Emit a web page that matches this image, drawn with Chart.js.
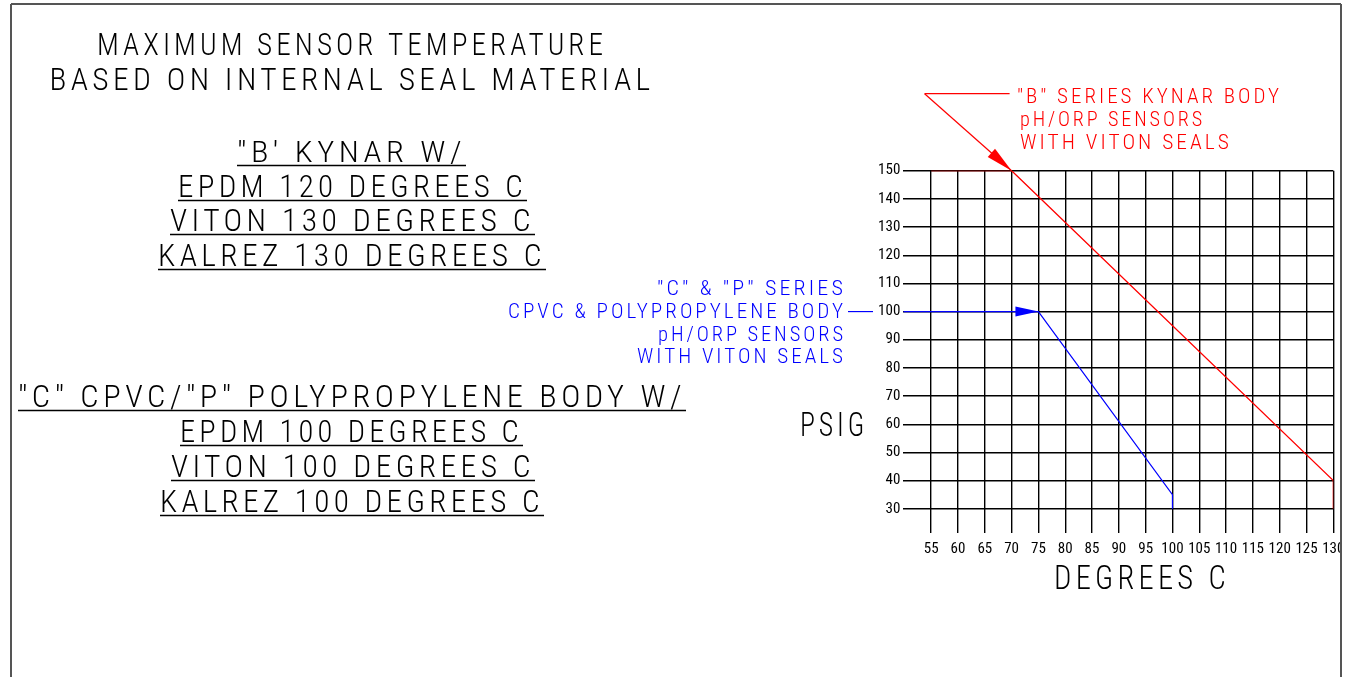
<!DOCTYPE html>
<html>
<head>
<meta charset="utf-8">
<script src="https://cdn.jsdelivr.net/npm/chart.js@4.4.0/dist/chart.umd.min.js"></script>
<style>
  html, body { margin: 0; padding: 0; background: #fff; }
  #wrap { position: absolute; left: 0; top: 0; width: 1348px; height: 677px; }
</style>
</head>
<body>
<div id="wrap"><canvas id="chart" width="1348" height="677"></canvas></div>
<script>
// axis ticks
const xTicks = [55, 60, 65, 70, 75, 80, 85, 90, 95, 100, 105, 110, 115, 120, 125, 130];
const yTicks = [30, 40, 50, 60, 70, 80, 90, 100, 110, 120, 130, 140, 150];

// "B" series (Kynar body) - red
const kynarX = [55, 70, 130, 130];
const kynarY = [150, 150, 40, 30];

// "C" & "P" series (CPVC / polypropylene body) - blue
const cpvcX = [49.8, 75, 100, 100];
const cpvcY = [100, 100, 35, 30];

// texts
const titleLines = ["MAXIMUM SENSOR TEMPERATURE", "BASED ON INTERNAL SEAL MATERIAL"];
const kynarLines = ["\"B' KYNAR W/", "EPDM 120 DEGREES C", "VITON 130 DEGREES C", "KALREZ 130 DEGREES C"];
const cpvcLines = ["\"C\" CPVC/\"P\" POLYPROPYLENE BODY W/", "EPDM 100 DEGREES C", "VITON 100 DEGREES C", "KALREZ 100 DEGREES C"];
const kynarNote = ["\"B\" SERIES KYNAR BODY", "pH/ORP SENSORS", "WITH VITON SEALS"];
const cpvcNote = ["\"C\" & \"P\" SERIES", "CPVC & POLYPROPYLENE BODY", "pH/ORP SENSORS", "WITH VITON SEALS"];

const FONT = '"Roboto Condensed", "Liberation Sans Narrow", "DejaVu Sans Condensed", Roboto, sans-serif';

const toPoints = (xs, ys) => xs.map((x, i) => ({ x: x, y: ys[i] }));

// draws one line of text squeezed/stretched to a given width
// box: [x, capTop, baseline, width]
function drawText(ctx, s, box, align, color) {
    const [x, top, base, width] = box;
    const size = (base - top) / 0.71;
    ctx.save();
    ctx.font = "300 " + size + "px " + FONT;
    ctx.letterSpacing = (size * 0.14).toFixed(1) + "px";
    const w = ctx.measureText(s).width;
    ctx.translate(x, base);
    ctx.scale(width / w, 1);
    ctx.textAlign = align;
    ctx.textBaseline = "alphabetic";
    ctx.fillStyle = color;
    ctx.fillText(s, 0, 0);
    ctx.restore();
}

function line(ctx, x1, y1, x2, y2, color, lw) {
    ctx.save();
    ctx.strokeStyle = color;
    ctx.lineWidth = lw;
    ctx.beginPath();
    ctx.moveTo(x1, y1);
    ctx.lineTo(x2, y2);
    ctx.stroke();
    ctx.restore();
}

function arrowHead(ctx, fx, fy, tx, ty, len, half, color) {
    const a = Math.atan2(ty - fy, tx - fx);
    ctx.save();
    ctx.translate(tx, ty);
    ctx.rotate(a);
    ctx.fillStyle = color;
    ctx.beginPath();
    ctx.moveTo(0, 0);
    ctx.lineTo(-len, -half);
    ctx.lineTo(-len, half);
    ctx.closePath();
    ctx.fill();
    ctx.restore();
}

const drawing = {
    id: "drawing",
    beforeDraw(chart) {
        const ctx = chart.ctx;
        ctx.save();
        ctx.fillStyle = "#fff";
        ctx.fillRect(0, 0, chart.width, chart.height);
        ctx.restore();
    },
    afterDatasetsDraw(chart) {
        const ctx = chart.ctx;
        const xs = chart.scales.x, ys = chart.scales.y;

        // red leader + arrow
        const rx = xs.getPixelForValue(70), ry = ys.getPixelForValue(150);
        const sx = rx - 87, sy = ry - 77;
        line(ctx, sx, sy, sx + 85, sy, "#ff0000", 1.2);
        line(ctx, sx, sy, rx, ry, "#ff0000", 1.2);
        arrowHead(ctx, sx, sy, rx, ry, 27, 5.5, "#ff0000");

        // blue arrow + leader
        const bx = xs.getPixelForValue(75), by = ys.getPixelForValue(100);
        arrowHead(ctx, bx - 40, by, bx, by, 23, 5, "#0000ff");
        line(ctx, 848, by, 873, by, "#0000ff", 1.2);
    },
    afterDraw(chart) {
        const ctx = chart.ctx;

        // title
        const titleBoxes = [[352, 33, 55, 510], [352, 68, 90, 605]];
        titleLines.forEach((s, i) => drawText(ctx, s, titleBoxes[i], "center", "#000"));

        // underlined blocks
        const kynarBoxes = [[351.5, 141, 162, 229], [352.5, 175, 197, 349], [352.5, 209, 231, 365], [352, 244, 266, 388]];
        const cpvcBoxes = [[352, 385, 407, 668], [351.5, 420, 442, 343], [353, 455, 477, 364], [352, 490, 512, 384]];
        [[kynarLines, kynarBoxes], [cpvcLines, cpvcBoxes]].forEach(([lines, boxes]) => {
            lines.forEach((s, i) => {
                const b = boxes[i];
                drawText(ctx, s, b, "center", "#000");
                line(ctx, b[0] - b[3] / 2, b[2] + 3.5, b[0] + b[3] / 2, b[2] + 3.5, "#000", 1.5);
            });
        });

        // red note
        const redBoxes = [[1017, 88, 103, 265], [1020, 111.5, 126, 185], [1020, 135, 149, 212]];
        kynarNote.forEach((s, i) => drawText(ctx, s, redBoxes[i], "left", "#ff0000"));

        // blue note
        const blueBoxes = [[846, 280, 295, 189], [846, 303, 318, 338], [846, 325.5, 340.5, 188], [846, 348, 363, 209]];
        cpvcNote.forEach((s, i) => drawText(ctx, s, blueBoxes[i], "right", "#0000ff"));

        // axis titles
        drawText(ctx, "PSIG", [800, 413, 436, 68], "left", "#000");
        drawText(ctx, "DEGREES C", [1054, 566, 589, 176], "left", "#000");

        // sheet frame
        ctx.save();
        ctx.fillStyle = "#fff";
        ctx.fillRect(1342, 0, 6, chart.height);
        ctx.restore();
        line(ctx, 11, 4, 1341, 4, "#555", 2);
        line(ctx, 11, 4, 11, 677, "#555", 2);
        line(ctx, 1341, 4, 1341, 677, "#555", 2);
    }
};

const tickFont = { family: FONT, size: 15 };

new Chart(document.getElementById("chart"), {
    type: "line",
    data: {
        datasets: [
            {
                data: toPoints(kynarX, kynarY),
                borderColor: "#ff0000",
                borderWidth: 1.2,
                pointRadius: 0,
                tension: 0,
                fill: false
            },
            {
                data: toPoints(cpvcX, cpvcY),
                borderColor: "#0000ff",
                borderWidth: 1.2,
                pointRadius: 0,
                tension: 0,
                fill: false
            }
        ]
    },
    options: {
        responsive: false,
        devicePixelRatio: 1,
        animation: false,
        layout: { padding: { left: 863.3, right: 14.7, top: 170.7, bottom: 118.7 } },
        plugins: {
            legend: { display: false },
            tooltip: { enabled: false }
        },
        scales: {
            x: {
                type: "linear",
                min: 49.8,
                max: 130,
                afterBuildTicks: (s) => { s.ticks = xTicks.map(v => ({ value: v })); },
                afterFit: (s) => { s.height = 25; s.paddingLeft = 0; s.paddingRight = 0; },
                grid: { color: "#000", lineWidth: 1.4, drawTicks: false },
                border: { display: false },
                ticks: { color: "#000", font: tickFont, padding: 7, autoSkip: false, maxRotation: 0 }
            },
            y: {
                type: "linear",
                min: 21.3,
                max: 150,
                afterBuildTicks: (s) => { s.ticks = yTicks.map(v => ({ value: v })); },
                afterFit: (s) => { s.width = 40; s.paddingTop = 0; s.paddingBottom = 0; },
                grid: { color: "#000", lineWidth: 1.4, drawTicks: false },
                border: { display: false },
                ticks: { color: "#000", font: tickFont, padding: 3, autoSkip: false }
            }
        }
    },
    plugins: [drawing]
});
</script>
</body>
</html>
